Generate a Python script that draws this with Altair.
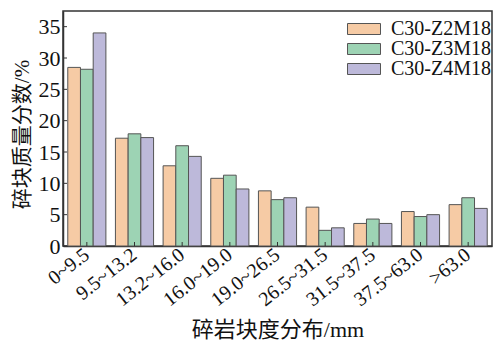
import altair as alt
import pandas as pd

categories = ["0~9.5", "9.5~13.2", "13.2~16.0", "16.0~19.0", "19.0~26.5",
              "26.5~31.5", "31.5~37.5", "37.5~63.0", ">63.0"]
series_names = ["C30-Z2M18", "C30-Z3M18", "C30-Z4M18"]
z2 = [28.5, 17.2, 12.8, 10.8, 8.8, 6.2, 3.6, 5.5, 6.6]
z3 = [28.2, 17.9, 16.0, 11.3, 7.4, 2.5, 4.3, 4.7, 7.7]
z4 = [34.0, 17.3, 14.3, 9.1, 7.7, 2.9, 3.6, 5.0, 6.0]
colors = ["#F6CBA5", "#9DD3B4", "#BDB9DA"]
y_ticks = [0, 5, 10, 15, 20, 25, 30, 35]

rows = []
for name, vals in zip(series_names, [z2, z3, z4]):
    for c, v in zip(categories, vals):
        rows.append({"cat": c, "series": name, "value": v})
df = pd.DataFrame(rows)
cat_df = pd.DataFrame({"cat": categories})
yt_df = pd.DataFrame({"v": y_ticks})

FONT = "Liberation Serif, Noto Sans CJK SC"

x_axis = alt.Axis(title="碎岩块度分布/mm", labelAngle=-38, labelAlign="right",
                  labelBaseline="middle", labelFontSize=20, ticks=False,
                  labelPadding=6, titleFontSize=22, titlePadding=10,
                  labelOverlap=False, titleFontWeight="normal")
y_axis = alt.Axis(title="碎块质量分数/%", values=y_ticks, ticks=False,
                  labelFontSize=22, labelPadding=3, titleFontSize=21,
                  labelOverlap=False, titlePadding=6, titleY=123,
                  titleFontWeight="normal", grid=False)
y_scale = alt.Scale(domain=[0, 37.5], nice=False)
x_scale = alt.Scale(paddingInner=0.2, paddingOuter=0.1)

bars = alt.Chart(df).mark_bar(stroke="#555555", strokeWidth=1).encode(
    x=alt.X("cat:N", sort=categories, scale=x_scale, axis=x_axis),
    xOffset=alt.XOffset("series:N", sort=series_names),
    y=alt.Y("value:Q", scale=y_scale, axis=y_axis),
    color=alt.Color("series:N", sort=series_names,
                    scale=alt.Scale(domain=series_names, range=colors),
                    legend=alt.Legend(title=None, orient="none", legendX=291, legendY=8,
                                      symbolType="M-3,-1H3V1H-3Z",
                                      symbolSize=121, symbolStrokeColor="#555555",
                                      symbolStrokeWidth=1, labelFontSize=20,
                                      labelOffset=17, rowPadding=0, padding=0,
                                      labelColor="#111111")),
)

xticks = alt.Chart(cat_df).mark_rule(color="#333333", strokeWidth=1).encode(
    x=alt.X("cat:N", sort=categories, scale=x_scale, axis=x_axis),
    y=alt.value(235), y2=alt.value(231),
)

yticks = alt.Chart(yt_df).mark_rule(color="#333333", strokeWidth=1).encode(
    y=alt.Y("v:Q", scale=y_scale, axis=y_axis),
    x=alt.value(0), x2=alt.value(4),
)

chart = alt.layer(bars, xticks, yticks).properties(
    width=429, height=235,
    autosize=alt.AutoSizeParams(type="none"),
    padding={"left": 55, "top": 3, "right": 4, "bottom": 97},
).configure_axis(
    labelFont=FONT, titleFont=FONT, labelColor="#111111", titleColor="#111111",
    domainColor="#333333", domainWidth=1.5,
).configure_legend(
    labelFont=FONT,
).configure_view(
    stroke="#333333", strokeWidth=1.5,
)

chart.save("out.html", embed_options={"renderer": "svg", "actions": False})
